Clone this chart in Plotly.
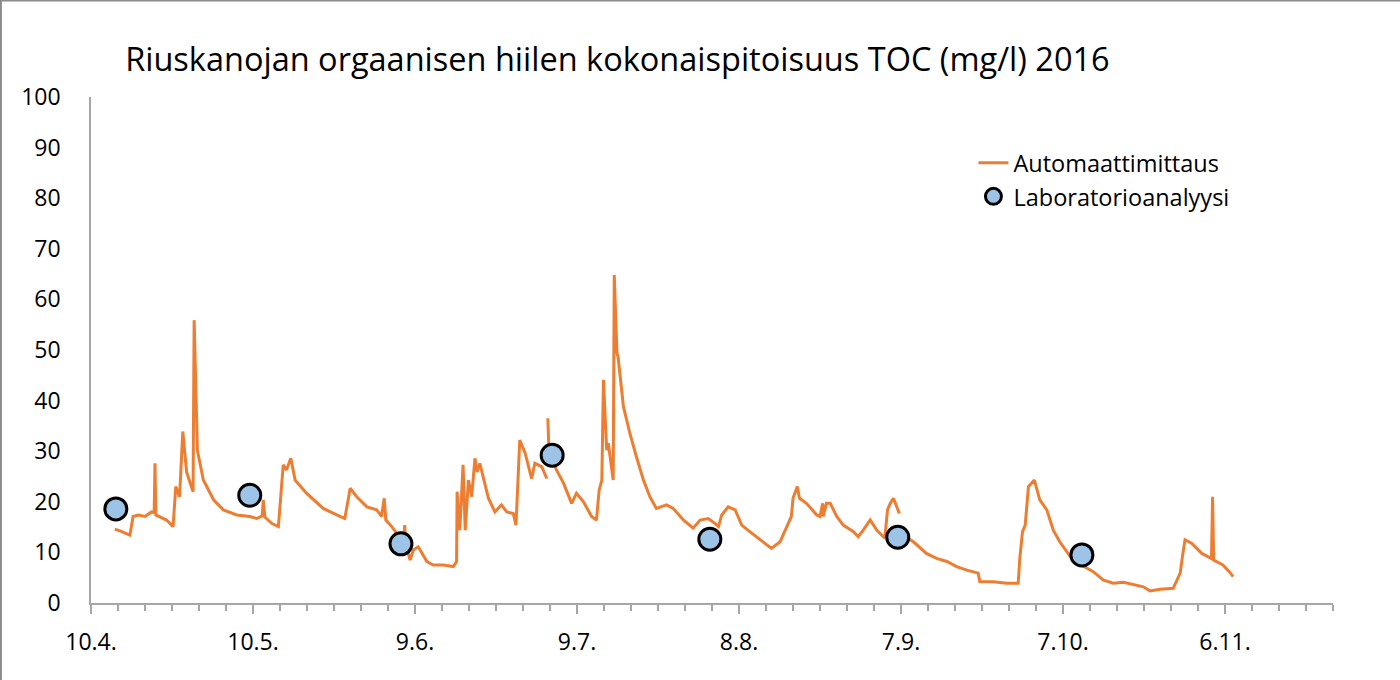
import pandas as pd
import plotly.graph_objects as go

base_date = "2016-04-10"

# Automatic measurement (days after 10.4.2016, TOC mg/l); None = gap in data
auto_days = [4.4, 5.5, 7.2, 7.8, 8.8, 10.0, 11.2, 11.7, 11.85, 12.0, 14.0, 15.2, 15.7, 16.4, 17.0, 17.7,
             18.9, 19.1, 19.7, 20.8, 22.7, 24.5, 27.0, 29.4, 30.7, 31.7, 31.9, 32.2, 33.5, 34.7, 35.6,
             36.2, 37.0, 37.8, 39.9, 43.0, 46.1, 47.0, 48.0, 49.2, 51.1, 52.9, 53.8, 54.3, 54.6, 55.7,
             57.5, 57.9, 58.1, 58.3, 59.1, 59.7, 60.6, 62.2, 63.4, 65.3, 67.1, 67.7, 67.8, 68.3, 68.9,
             69.3, 69.9, 70.5, 71.1, 71.5, 72.0, 73.6, 74.8, 76.0, 77.0, 78.2, 78.7, 79.4, 80.4, 81.6,
             82.2, 83.5, 84.4, 84.5, 84.6, 84.8, 86.2, 87.5, 89.0, 89.9, 91.2, 92.7, 93.6, 94.1, 94.6,
             94.9, 95.5, 95.8, 96.7, 96.9, 97.4, 97.6, 98.6, 99.8, 101.0, 102.3, 103.5, 104.7, 106.6,
             107.8, 109.7, 111.5, 112.8, 114.3, 115.6, 116.2, 116.8, 118.0, 119.3, 120.5, 122.0, 123.9,
             126.0, 127.6, 128.8, 129.7, 130.0, 130.8, 131.2, 132.5, 134.4, 135.0, 135.5, 135.6, 136.2,
             136.9, 138.1, 139.3, 141.2, 142.1, 143.0, 144.3, 145.5, 146.7, 147.0, 147.5, 148.0, 148.6,
             149.7, 149.75, 149.8, 152.3, 154.7, 156.6, 158.5, 160.3, 162.2, 164.3, 164.6, 167.1, 169.6,
             171.7, 172.0, 172.5, 173.0, 173.6, 174.7, 175.7, 177.0, 178.2, 179.4, 181.6, 183.4, 185.6,
             187.5, 189.3, 191.2, 193.6, 194.9, 196.1, 198.0, 200.4, 201.7, 202.2, 202.6, 203.8, 205.7,
             207.5, 207.7, 207.9, 209.6, 210.8, 211.5]
auto_vals = [14.6, 14.2, 13.4, 17.1, 17.4, 17.1, 18.0, 17.9, 27.6, 17.4, 16.4, 15.1, 23.0, 21.0, 33.9, 25.9,
             22.0, 55.9, 30.2, 24.3, 20.4, 18.4, 17.4, 17.1, 16.7, 17.2, 20.4, 17.0, 15.7, 15.1, 27.3,
             26.3, 28.6, 24.3, 21.7, 18.7, 17.1, 16.7, 22.7, 21.0, 19.0, 18.4, 17.1, 20.7, 16.4, 15.1,
             12.5, 12.0, 15.4, 11.5, 8.5, 10.5, 11.1, 8.2, 7.5, 7.5, 7.2, 8.2, 22.0, 14.4, 27.3,
             14.4, 24.3, 21.0, 28.6, 25.9, 27.6, 20.7, 18.0, 19.4, 18.0, 17.7, 15.4, 32.2, 29.6, 24.6,
             27.6, 26.9, 24.6, None, 36.5, 30.2, 26.3, 23.7, 19.7, 21.7, 20.0, 17.1, 16.4, 22.3, 24.3,
             44.1, 30.2, 31.6, 24.3, 64.8, 49.3, 48.7, 38.8, 33.5, 28.9, 24.3, 21.0, 18.7, 19.4,
             18.7, 16.4, 14.8, 16.4, 16.7, 15.7, 15.1, 17.4, 19.0, 18.4, 15.4, 14.1, 12.5,
             10.8, 12.1, 15.1, 17.1, 20.7, 23.0, 20.7, 19.7, 17.4, 17.1, 19.7, 17.1, 19.7,
             19.7, 17.1, 15.4, 14.1, 13.1, 14.4, 16.4, 14.4, 13.1, 12.8, 18.4, 19.7, 20.7,
             17.7, None, 13.8, 12.1, 9.8, 8.8, 8.2, 7.2, 6.5, 5.9, 4.2, 4.2, 3.9,
             3.9, 8.8, 14.1, 15.4, 23.0, 24.3, 20.4, 18.4, 14.4, 12.1, 8.8, 7.5, 6.2,
             4.5, 3.9, 4.1, 3.6, 3.2, 2.4, 2.7, 2.9, 5.9, 9.8, 12.5, 11.8, 9.8,
             8.8, 21.0, 8.5, 7.5, 6.2, 5.2]

# Laboratory analyses
lab_days = [4.6, 29.4, 57.4, 85.4, 114.6, 149.4, 183.5]
lab_vals = [18.6, 21.3, 11.7, 29.2, 12.6, 13.0, 9.5]

tick_dates = ["2016-04-10", "2016-05-10", "2016-06-09", "2016-07-09", "2016-08-08",
              "2016-09-07", "2016-10-07", "2016-11-06"]
tick_labels = ["10.4.", "10.5.", "9.6.", "9.7.", "8.8.", "7.9.", "7.10.", "6.11."]

b = pd.Timestamp(base_date)
auto_x = [b + pd.Timedelta(days=d) for d in auto_days]
lab_x = [b + pd.Timedelta(days=d) for d in lab_days]

FONT = "Open Sans"
fig = go.Figure()
fig.add_trace(go.Scatter(x=auto_x, y=auto_vals, mode="lines", name="Automaattimittaus",
                         line=dict(color="#ED7D31", width=3), connectgaps=False))
fig.add_trace(go.Scatter(x=lab_x, y=lab_vals, mode="markers", name="Laboratorioanalyysi",
                         marker=dict(size=22, color="#9DC3E6", line=dict(color="black", width=3))))

fig.update_layout(
    width=1400, height=680,
    margin=dict(l=91, r=67, t=97, b=77),
    paper_bgcolor="white", plot_bgcolor="white",
    font=dict(family=FONT, color="black"),
    title=dict(text="Riuskanojan orgaanisen hiilen kokonaispitoisuus TOC (mg/l) 2016",
               x=0.441, xanchor="center", y=0.912, yanchor="middle",
               font=dict(size=32.5, family=FONT, color="black")),
    legend=dict(x=0.7105, y=0.913, xanchor="left", yanchor="top",
                font=dict(size=23.5, family=FONT, color="black"),
                bgcolor="rgba(0,0,0,0)"),
    showlegend=True,
)
fig.update_xaxes(type="date", range=["2016-04-10", "2016-11-26"],
                 tickvals=tick_dates, ticktext=tick_labels,
                 showline=True, linecolor="#A6A6A6", linewidth=1.5,
                 ticks="outside", ticklen=9, tickcolor="#A6A6A6", tickwidth=1.5,
                 minor=dict(ticks="outside", ticklen=6, tickcolor="#A6A6A6", tickwidth=1.5,
                            dtick=5 * 86400000, tick0="2016-04-10"),
                 showgrid=False, zeroline=False, ticklabelstandoff=9,
                 tickfont=dict(size=23, family=FONT, color="black"))
fig.update_yaxes(range=[0, 100], dtick=10, showline=True, linecolor="#A6A6A6", linewidth=1.5,
                 ticks="", showgrid=False, zeroline=False, ticklabelstandoff=24,
                 tickfont=dict(size=23, family=FONT, color="black"))

# outer chart border (top and left edges visible in reference)
fig.add_shape(type="line", xref="paper", yref="paper", x0=-0.08, x1=1.1, y0=1.1905, y1=1.1905,
              line=dict(color="#8C8C8C", width=2))
fig.add_shape(type="line", xref="paper", yref="paper", x0=-0.0725, x1=-0.0725, y0=-0.2, y1=1.2,
              line=dict(color="#8C8C8C", width=2))

fig.write_html("out.html", config={"displayModeBar": False},
               post_script="document.body.style.margin='0';")
